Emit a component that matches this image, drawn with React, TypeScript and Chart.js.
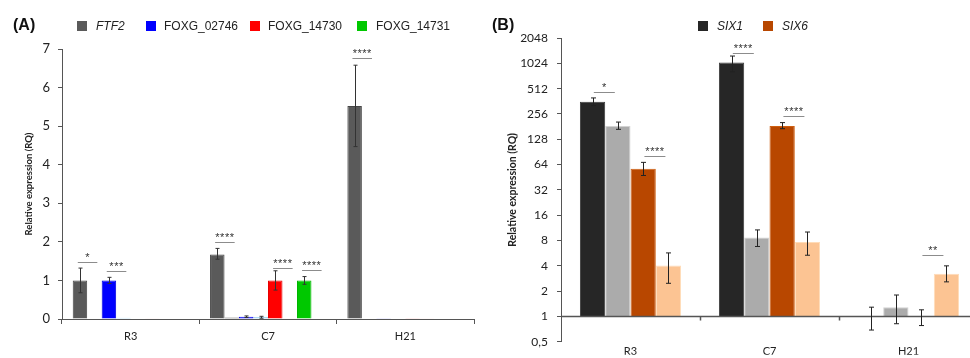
import React, { useEffect, useRef } from 'react';
import { Chart, registerables } from 'chart.js';
Chart.register(...registerables);

// ---------- Panel A data ----------
const groupsA = ['R3', 'C7', 'H21'];
const ftf2 = [1.0, 1.67, 5.52];
const ftf2Ref = [0.01, 0.04, 0.01];
const foxg02746 = [1.0, 0.06, 0.02];
const foxg02746Ref = [0.03, 0.05, 0.015];
const foxg14730 = [0.01, 1.0, 0.005];
const foxg14730Ref = [0.005, 0.005, 0.005];
const foxg14731 = [0.0, 1.0, 0.0];
const foxg14731Ref = [0.0, 0.0, 0.0];
const ftf2Err = [[0.68, 1.32], [1.55, 1.83], [4.47, 6.58]];
const foxg02746Err = [[0.92, 1.08], [0.04, 0.08], null];
const foxg02746RefErr = [null, [0.02, 0.07], null];
const foxg14730Err = [null, [0.75, 1.25], null];
const foxg14731Err = [null, [0.9, 1.1], null];
const ticksA = [0, 1, 2, 3, 4, 5, 6, 7];
const sigA = [
  { group: 0, bar: 0, at: 1.48, label: '*' },
  { group: 0, bar: 2, at: 1.24, label: '***' },
  { group: 1, bar: 0, at: 2.0, label: '****' },
  { group: 1, bar: 4, at: 1.33, label: '****' },
  { group: 1, bar: 6, at: 1.27, label: '****' },
  { group: 2, bar: 0, at: 6.77, label: '****' },
];

// ---------- Panel B data ----------
const groupsB = ['R3', 'C7', 'H21'];
const six1 = [357, 1050, 1.0];
const six1Ref = [184, 8.7, 1.29];
const six6 = [57, 184, 1.0];
const six6Ref = [4.05, 7.7, 3.23];
const six1Err = [[322, 397], [815, 1250], [0.69, 1.29]];
const six1RefErr = [[168, 205], [6.8, 10.7], [0.82, 1.8]];
const six6Err = [[47.5, 68], [171, 202], [0.78, 1.2]];
const six6RefErr = [[2.48, 5.7], [5.35, 10.1], [2.58, 4.0]];
const ticksB = [0.5, 1, 2, 4, 8, 16, 32, 64, 128, 256, 512, 1024, 2048];
const sigB = [
  { group: 0, bar: 0, at: 467, label: '*' },
  { group: 0, bar: 2, at: 82, label: '****' },
  { group: 1, bar: 0, at: 1364, label: '****' },
  { group: 1, bar: 2, at: 241, label: '****' },
  { group: 2, bar: 2, at: 5.45, label: '**' },
];

const AXIS = '#555555';
const TXT = '#222222';

const errorBarPlugin = {
  id: 'errbars',
  afterDatasetsDraw(chart: any, _args: any, opts: any) {
    const ctx = chart.ctx;
    const ys = chart.scales.y;
    chart.data.datasets.forEach((ds: any, di: number) => {
      const errs = ds.errors;
      if (!errs) return;
      const meta = chart.getDatasetMeta(di);
      meta.data.forEach((bar: any, i: number) => {
        const e = errs[i];
        if (!e) return;
        const x = Math.round(bar.x) + 0.5;
        const y0 = ys.getPixelForValue(e[0]);
        const y1 = ys.getPixelForValue(e[1]);
        const c = opts.cap || 2;
        ctx.save();
        ctx.strokeStyle = opts.color || '#333';
        ctx.lineWidth = 1;
        ctx.beginPath();
        ctx.moveTo(x, y0);
        ctx.lineTo(x, y1);
        ctx.moveTo(x - c, y0);
        ctx.lineTo(x + c, y0);
        ctx.moveTo(x - c, y1);
        ctx.lineTo(x + c, y1);
        ctx.stroke();
        ctx.restore();
      });
    });
  },
};

const sigPlugin = {
  id: 'sig',
  afterDatasetsDraw(chart: any, _args: any, opts: any) {
    const ctx = chart.ctx;
    const ys = chart.scales.y;
    (opts.items || []).forEach((s: any) => {
      const b0 = chart.getDatasetMeta(s.bar).data[s.group];
      const b1 = chart.getDatasetMeta(s.bar + 1).data[s.group];
      const w = b0.width;
      const x0 = b0.x + opts.off0 * w;
      const x1 = b1.x + opts.off1 * w;
      const y = Math.round(ys.getPixelForValue(s.at)) + 0.5;
      ctx.save();
      ctx.strokeStyle = '#8c8c8c';
      ctx.lineWidth = 1;
      ctx.beginPath();
      ctx.moveTo(x0, y);
      ctx.lineTo(x1, y);
      ctx.stroke();
      ctx.fillStyle = '#333';
      ctx.font = '11px "Liberation Sans", Arial, sans-serif';
      (ctx as any).letterSpacing = '0.5px';
      ctx.textAlign = 'center';
      ctx.textBaseline = 'middle';
      ctx.fillText(s.label, (x0 + x1) / 2, y - 5);
      ctx.restore();
    });
  },
};

const baselinePlugin = {
  id: 'baseline',
  afterDatasetsDraw(chart: any) {
    const ctx = chart.ctx;
    const ys = chart.scales.y;
    const xs = chart.scales.x;
    const { left, right } = chart.chartArea;
    const y = ys.getPixelForValue(1);
    ctx.save();
    ctx.strokeStyle = AXIS;
    ctx.lineWidth = 1.5;
    ctx.beginPath();
    ctx.moveTo(left, y);
    ctx.lineTo(right, y);
    const n = xs.getLabels().length;
    const step = (right - left) / n;
    for (let i = 1; i < n; i++) {
      const x = Math.round(left + step * i) + 0.5;
      ctx.moveTo(x, y);
      ctx.lineTo(x, y + 4);
    }
    ctx.stroke();
    ctx.restore();
  },
};

function barDs(label: string, data: number[], bg: string, border: string, errors: any, extra: any = {}) {
  return {
    label,
    data,
    backgroundColor: bg,
    borderColor: border,
    borderWidth: 1,
    errors,
    ...extra,
  };
}

export default function App() {
  const refA = useRef<HTMLCanvasElement>(null);
  const refB = useRef<HTMLCanvasElement>(null);

  useEffect(() => {
    Chart.defaults.font.family = 'Lato, "Liberation Sans", sans-serif';
    Chart.defaults.color = TXT;

    const chartA = new Chart(refA.current as HTMLCanvasElement, {
      type: 'bar',
      data: {
        labels: groupsA,
        datasets: [
          barDs('FTF2', ftf2, '#5a5a5a', '#464646', ftf2Err),
          barDs('FTF2 ref', ftf2Ref, '#6a6a6a', '#6a6a6a', null),
          barDs('FOXG_02746', foxg02746, '#0000ff', '#0000e0', foxg02746Err),
          barDs('FOXG_02746 ref', foxg02746Ref, '#9fd3f2', '#9fd3f2', foxg02746RefErr),
          barDs('FOXG_14730', foxg14730, '#ff0000', '#e60000', foxg14730Err),
          barDs('FOXG_14730 ref', foxg14730Ref, '#ffb3b3', '#ffb3b3', null),
          barDs('FOXG_14731', foxg14731, '#00c800', '#00b400', foxg14731Err),
          barDs('FOXG_14731 ref', foxg14731Ref, '#b3f0b3', '#b3f0b3', null),
        ] as any,
      },
      options: {
        responsive: false,
        animation: false,
        events: [],
        layout: { padding: { left: 0, right: 11, top: 49, bottom: 0 } },
        datasets: { bar: { categoryPercentage: 0.844, barPercentage: 1.0 } } as any,
        plugins: {
          legend: { display: false },
          tooltip: { enabled: false },
          errbars: { color: '#333', cap: 2 },
          sig: { items: sigA, off0: -0.15, off1: 0.2 },
        } as any,
        scales: {
          x: {
            afterFit: (s: any) => { s.height = 39; },
            grid: { offset: true, drawOnChartArea: false, tickLength: 5, color: AXIS },
            border: { color: AXIS, width: 1 },
            ticks: { font: { size: 11 }, padding: 6, color: TXT },
          },
          y: {
            min: 0,
            max: 7,
            afterFit: (s: any) => { s.width = 62; },
            afterBuildTicks: (s: any) => { s.ticks = ticksA.map((v) => ({ value: v })); },
            grid: { drawOnChartArea: false, tickLength: 4, color: AXIS },
            border: { color: AXIS, width: 1 },
            ticks: { font: { size: 13 }, padding: 8, color: TXT },
            title: {
              display: true,
              text: 'Relative expression (RQ)',
              font: { size: 9.5, weight: 'bold' },
              padding: { top: 23, bottom: 0 },
              color: TXT,
            },
          },
        },
      } as any,
      plugins: [errorBarPlugin, sigPlugin] as any,
    });

    const chartB = new Chart(refB.current as HTMLCanvasElement, {
      type: 'bar',
      data: {
        labels: groupsB,
        datasets: [
          barDs('SIX1', six1, '#262626', '#3c3c3c', six1Err, { base: 1 }),
          barDs('SIX1 ref', six1Ref, '#ababab', '#d2d2d2', six1RefErr, { base: 1 }),
          barDs('SIX6', six6, '#b84700', '#cf5f10', six6Err, { base: 1 }),
          barDs('SIX6 ref', six6Ref, '#fcc493', '#ffdcb8', six6RefErr, { base: 1 }),
        ] as any,
      },
      options: {
        responsive: false,
        animation: false,
        events: [],
        layout: { padding: { left: 0, right: 7, top: 38, bottom: 0 } },
        datasets: { bar: { categoryPercentage: 0.728, barPercentage: 1.0 } } as any,
        plugins: {
          legend: { display: false },
          tooltip: { enabled: false },
          errbars: { color: '#222', cap: 2.5 },
          sig: { items: sigB, off0: 0.05, off1: -0.12 },
        } as any,
        scales: {
          x: {
            afterFit: (s: any) => { s.height = 13; },
            grid: { display: false, drawTicks: false },
            border: { display: false },
            ticks: { font: { size: 11 }, padding: 3, color: TXT },
          },
          y: {
            type: 'logarithmic',
            min: 0.5,
            max: 2048,
            afterFit: (s: any) => { s.width = 76; },
            afterBuildTicks: (s: any) => { s.ticks = ticksB.map((v) => ({ value: v })); },
            grid: { drawOnChartArea: false, tickLength: 4, color: AXIS },
            border: { color: AXIS, width: 1 },
            ticks: {
              font: { size: 12 },
              padding: 9,
              color: TXT,
              callback: (v: any) => (v === 0.5 ? '0,5' : String(v)),
            },
            title: {
              display: true,
              text: 'Relative expression (RQ)',
              font: { size: 10.5, weight: 'bold' },
              padding: { top: 21, bottom: 0 },
              color: TXT,
            },
          },
        },
      } as any,
      plugins: [baselinePlugin, errorBarPlugin, sigPlugin] as any,
    });

    return () => {
      chartA.destroy();
      chartB.destroy();
    };
  }, []);

  const legendFont = '"Liberation Sans", Arial, sans-serif';
  const sq = (color: string, left: number) => (
    <div style={{ position: 'absolute', left, top: 21, width: 10, height: 10, background: color }} />
  );
  const lt = (text: string, left: number, italic = false) => (
    <div style={{ position: 'absolute', left, top: 18, fontSize: 12, lineHeight: '16px', fontStyle: italic ? 'italic' : 'normal', color: TXT, whiteSpace: 'nowrap' }}>{text}</div>
  );

  return (
    <div style={{ position: 'fixed', left: 0, top: 0, width: 970, height: 358, overflow: 'hidden', background: '#fff', fontFamily: legendFont }}>
      <div style={{ position: 'absolute', left: 0, top: 0, width: 485, height: 358 }}>
        <canvas ref={refA} width={485} height={358} style={{ display: 'block' }} />
      </div>
      <div style={{ position: 'absolute', left: 485, top: 0, width: 500, height: 358 }}>
        <canvas ref={refB} width={500} height={358} style={{ display: 'block' }} />
      </div>
      <div style={{ position: 'absolute', left: 13, top: 16, fontSize: 16, fontWeight: 'bold', color: '#111' }}>(A)</div>
      <div style={{ position: 'absolute', left: 492, top: 16, fontSize: 16, fontWeight: 'bold', color: '#111' }}>(B)</div>
      {sq('#5a5a5a', 77)}{lt('FTF2', 96, true)}
      {sq('#0000ff', 146)}{lt('FOXG_02746', 164)}
      {sq('#ff0000', 250)}{lt('FOXG_14730', 268)}
      {sq('#00c800', 357)}{lt('FOXG_14731', 376)}
      {sq('#262626', 698)}{lt('SIX1', 717, true)}
      {sq('#b84700', 763)}{lt('SIX6', 782, true)}
    </div>
  );
}
